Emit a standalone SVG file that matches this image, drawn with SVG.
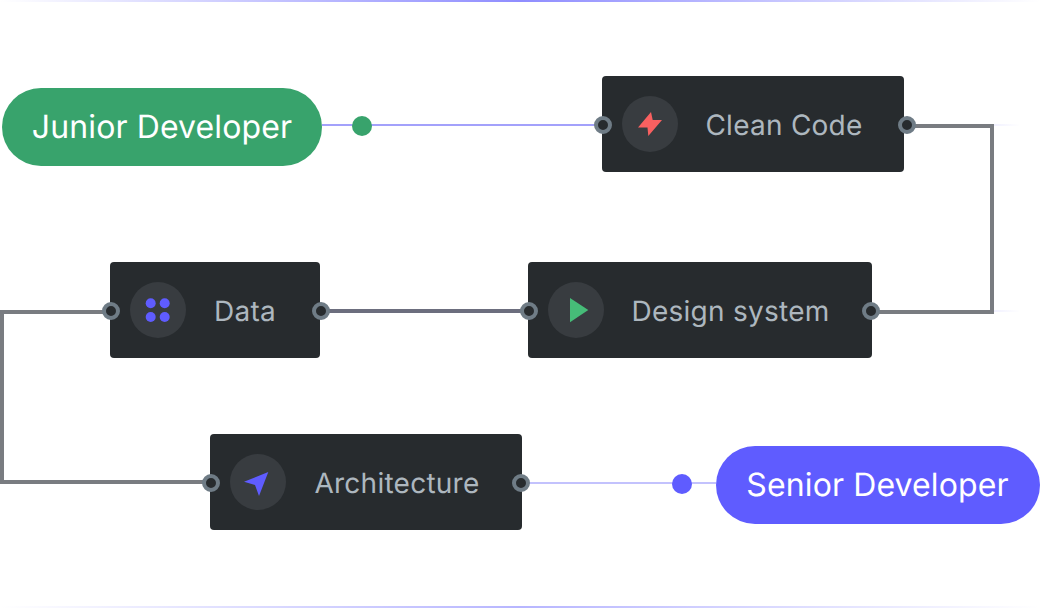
<svg xmlns="http://www.w3.org/2000/svg" width="1040" height="608" viewBox="0 0 1040 608">
<defs>
<linearGradient id="gt" x1="0" x2="1" y1="0" y2="0"><stop offset="0" stop-color="#5f5cff" stop-opacity="0"/><stop offset=".5" stop-color="#5f5cff" stop-opacity=".7"/><stop offset="1" stop-color="#5f5cff" stop-opacity="0"/></linearGradient>
<linearGradient id="gb" x1="0" x2="1" y1="0" y2="0"><stop offset="0" stop-color="#5f5cff" stop-opacity="0"/><stop offset=".5" stop-color="#5f5cff" stop-opacity=".45"/><stop offset="1" stop-color="#5f5cff" stop-opacity="0"/></linearGradient>
<linearGradient id="fade" x1="0" x2="1" y1="0" y2="0"><stop offset="0" stop-color="#5f5cff" stop-opacity=".1"/><stop offset="1" stop-color="#5f5cff" stop-opacity="0"/></linearGradient>
</defs>
<style>
text{font-family:Inter,"Liberation Sans",sans-serif;font-weight:400;text-rendering:geometricPrecision}
.box{fill:#272b2e}
.disc{fill:#383c40}
.port{fill:#272b2e;stroke:#6f7c86;stroke-width:4}
.lbl{font-size:28px;fill:#adb7bf;text-anchor:middle;letter-spacing:.25px}
.pill{font-size:32px;fill:#fff;text-anchor:middle;letter-spacing:.12px}
.heavy{fill:none;stroke:#797c81;stroke-width:4}
.thin{fill:none;stroke-width:2}
</style>
<rect x="0" y="0" width="1040" height="2" fill="url(#gt)"/>
<rect x="0" y="606" width="1040" height="2" fill="url(#gb)"/>
<g id="connectors">
<rect x="990" y="124" width="30" height="2" fill="url(#fade)"/>
<rect x="990" y="310" width="30" height="2" fill="url(#fade)"/>
<path class="thin" stroke="#a3a1fb" d="M322 125H603"/>
<path class="heavy" d="M907 126H992V312H871"/>
<path class="heavy" style="stroke:#6c6e7e" d="M321 311H529"/>
<path class="heavy" d="M111 312H2V482H211"/>
<path class="thin" stroke="#c3c2fd" d="M521 483H716"/>
<circle cx="362" cy="126" r="10" fill="#38a36c"/>
<circle cx="682" cy="484" r="10" fill="#5f5cff"/>
</g>
<g id="junior"><rect x="2" y="88" width="320" height="78" rx="39" fill="#38a36c"/><text class="pill" x="162" y="138">Junior Developer</text></g>
<g id="clean-code"><rect class="box" x="602" y="76" width="302" height="96" rx="4"/><circle class="disc" cx="650" cy="124" r="28"/><path d="M651 112L638 127.500H647.500L648.300 136L662 120H652.700Z" fill="#f96060"/><text class="lbl" x="784" y="135">Clean Code</text><circle class="port" cx="603" cy="125" r="7"/><circle class="port" cx="907" cy="125" r="7"/></g>
<g id="design-system"><rect class="box" x="528" y="262" width="344" height="96" rx="4"/><circle class="disc" cx="576" cy="310" r="28"/><path d="M570 298L588.300 310L570 322.300Z" fill="#46bc78"/><text class="lbl" x="730.500" y="321">Design system</text><circle class="port" cx="529" cy="311" r="7"/><circle class="port" cx="871" cy="311" r="7"/></g>
<g id="data"><rect class="box" x="110" y="262" width="210" height="96" rx="4"/><circle class="disc" cx="158" cy="310" r="28"/><g fill="#5f5cff"><circle cx="150.700" cy="303.300" r="5"/><circle cx="164.700" cy="303.300" r="5"/><circle cx="150.700" cy="317" r="5"/><circle cx="164.700" cy="317" r="5"/></g><text class="lbl" x="245" y="321">Data</text><circle class="port" cx="111" cy="311" r="7"/><circle class="port" cx="321" cy="311" r="7"/></g>
<g id="architecture"><rect class="box" x="210" y="434" width="312" height="96" rx="4"/><circle class="disc" cx="258" cy="482" r="28"/><path d="M244 481.700L268.300 472L259 496L255 485Z" fill="#5f5cff"/><text class="lbl" x="397" y="493">Architecture</text><circle class="port" cx="211" cy="483" r="7"/><circle class="port" cx="521" cy="483" r="7"/></g>
<g id="senior"><rect x="716" y="446" width="324" height="78" rx="39" fill="#5f5cff"/><text class="pill" x="877.500" y="496">Senior Developer</text></g>
</svg>
